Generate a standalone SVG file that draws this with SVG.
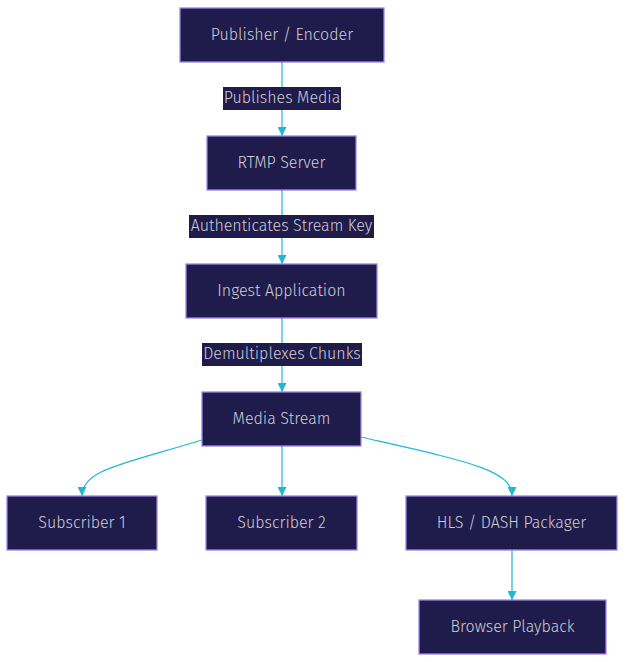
<svg xmlns="http://www.w3.org/2000/svg" width="626" height="662" viewBox="0 0 626 662">
<defs>
<style>
.node rect{fill:#1f1b4a;stroke:#9d85e6;stroke-width:1.3}
.node text,.lbl text{font-family:"Fira Sans","Noto Sans","Open Sans",sans-serif;font-size:16px;font-weight:300;fill:#cfcfd6;text-anchor:middle;dominant-baseline:central}
.lbl rect{fill:#1f1b4a}
.edge{fill:none;stroke:#1cb8d6;stroke-width:1.2}
</style>
<marker id="ah" viewBox="0 0 10 10" refX="10" refY="5" markerWidth="9" markerHeight="9" markerUnits="userSpaceOnUse" orient="auto">
<path d="M0,0 L10,5 L0,10 z" fill="#1cb8d6"/>
</marker>
</defs>
<g id="edges">
<path class="edge" d="M282,62 V136" marker-end="url(#ah)"/>
<path class="edge" d="M282,190 V264" marker-end="url(#ah)"/>
<path class="edge" d="M282,318 V392" marker-end="url(#ah)"/>
<path class="edge" d="M202,440 C120,465 82,470 82,496" marker-end="url(#ah)"/>
<path class="edge" d="M282,446 V496" marker-end="url(#ah)"/>
<path class="edge" d="M361,437 C470,462 512,470 512,496" marker-end="url(#ah)"/>
<path class="edge" d="M512,550 V600" marker-end="url(#ah)"/>
</g>
<g id="edge-labels">
<g class="lbl" id="l1"><rect x="223" y="87" width="118" height="23"/><text x="282" y="97.5">Publishes Media</text></g>
<g class="lbl" id="l2"><rect x="189" y="215" width="185" height="23"/><text x="281.5" y="225.5">Authenticates Stream Key</text></g>
<g class="lbl" id="l3"><rect x="202" y="343" width="160" height="23"/><text x="282" y="353.5">Demultiplexes Chunks</text></g>
</g>
<g class="node" id="publisher"><rect x="180" y="8" width="204" height="54"/><text x="282" y="34">Publisher / Encoder</text></g>
<g class="node" id="rtmp"><rect x="207" y="136" width="149" height="54"/><text x="281.5" y="162">RTMP Server</text></g>
<g class="node" id="ingest"><rect x="186" y="264" width="191" height="54"/><text x="281.5" y="290">Ingest Application</text></g>
<g class="node" id="media"><rect x="202" y="392" width="159" height="54"/><text x="281.5" y="418">Media Stream</text></g>
<g class="node" id="sub1"><rect x="7" y="496" width="150" height="54"/><text x="82" y="522">Subscriber 1</text></g>
<g class="node" id="sub2"><rect x="206" y="496" width="151" height="54"/><text x="281.5" y="522">Subscriber 2</text></g>
<g class="node" id="hls"><rect x="406" y="496" width="211" height="54"/><text x="511.5" y="522">HLS / DASH Packager</text></g>
<g class="node" id="browser"><rect x="419" y="600" width="187" height="54"/><text x="512.5" y="626">Browser Playback</text></g>
</svg>
